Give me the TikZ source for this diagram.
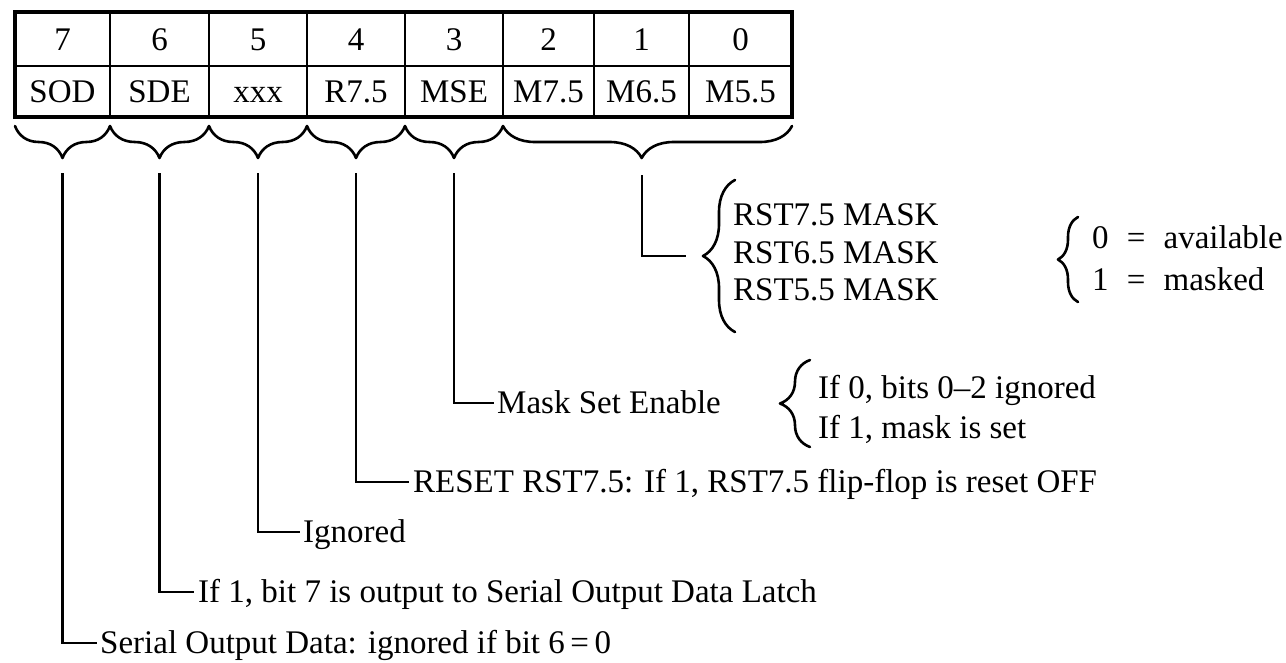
\documentclass[tikz,border=0pt]{standalone}
\usepackage{fontspec}
\setmainfont{Liberation Serif}
\usetikzlibrary{decorations.pathreplacing}
\begin{document}
\begin{tikzpicture}[x=1pt,y=-1pt,
  lbl/.style={anchor=west, inner sep=0pt, text height=23pt, text depth=3pt, font=\fontsize{33}{40}\selectfont},
  cell/.style={anchor=base, inner sep=0pt, font=\fontsize{33}{40}\selectfont},
  brc/.style={decorate, decoration={brace, amplitude=#1}, line width=2.6pt, line cap=round, line join=round},
  conn/.style={line width=2.6pt},
  grd/.style={line width=2.4pt},
]
\useasboundingbox[fill=white] (0,0) rectangle (1286,662);

% register table
\foreach \x in {110,209,307,405,503,594,689} \draw[grd] (\x,12) -- (\x,117);
\draw[grd] (15,66) -- (792,66);
\draw[line width=4pt] (15,12) rectangle (792,117);

\node[cell] (n7) at (62.5,50) {7};
\node[cell] (n6) at (159.5,50) {6};
\node[cell] (n5) at (258,50) {5};
\node[cell] (n4) at (356,50) {4};
\node[cell] (n3) at (454,50) {3};
\node[cell] (n2) at (548.5,50) {2};
\node[cell] (n1) at (641.5,50) {1};
\node[cell] (n0) at (740.5,50) {0};

\node[cell] (c7) at (62.5,102) {SOD};
\node[cell] (c6) at (159.5,102) {SDE};
\node[cell] (c5) at (258,102) {xxx};
\node[cell] (c4) at (356,102) {R7.5};
\node[cell] (c3) at (454,102) {MSE};
\node[cell] (c2) at (548.5,102) {M7.5};
\node[cell] (c1) at (641.5,102) {M6.5};
\node[cell] (c0) at (740.5,102) {M5.5};

% braces under the register
\draw[brc=32pt] (110,126) -- (15,126);
\draw[brc=32pt] (209,126) -- (110,126);
\draw[brc=32pt] (307,126) -- (209,126);
\draw[brc=32pt] (405,126) -- (307,126);
\draw[brc=32pt] (503,126) -- (405,126);
\draw[decorate, decoration={brace, amplitude=32pt, aspect=0.52}, line width=2.6pt, line cap=round, line join=round] (792,126) -- (503,126);

\coordinate (t7) at (62.5,173);
\coordinate (t6) at (159.5,173);
\coordinate (t5) at (258,173);
\coordinate (t4) at (356,173);
\coordinate (t3) at (454,173);
\coordinate (tm) at (642,175);

% labels
\node[lbl] (l7) at (100,643) {Serial Output Data: ignored if bit 6\,=\,0};
\node[lbl] (l6) at (198,592) {If 1, bit 7 is output to Serial Output Data Latch};
\node[lbl] (l5) at (303,532) {Ignored};
\node[lbl] (l4) at (413,482) {RESET RST7.5: If 1, RST7.5 flip-flop is reset OFF};
\node[lbl] (l3) at (497,403) {Mask Set Enable};

\draw[conn] (t7) |- ([xshift=-3pt]l7.west);
\draw[conn] (t6) |- ([xshift=-4pt]l6.west);
\draw[conn] (t5) |- ([xshift=-3pt]l5.west);
\draw[conn] (t4) |- ([xshift=-4pt]l4.west);
\draw[conn] (t3) |- ([xshift=-3pt]l3.west);

% mask set enable options
\draw[brc=30pt] (810,447) -- (810,360);
\node[lbl] (e0) at (818,388) {If 0, bits 0--2 ignored};
\node[lbl] (e1) at (818,428) {If 1, mask is set};

% interrupt masks
\draw[brc=32pt] (735,332) -- (735,180);
\coordinate (mbr) at (701,256);
\node[lbl] (m7) at (733,215) {RST7.5 MASK};
\node[lbl] (m6) at (733,253) {RST6.5 MASK};
\node[lbl] (m5) at (733,290) {RST5.5 MASK};
\draw[conn] (tm) |- ([xshift=-15pt]mbr);

% mask values
\draw[brc=20pt] (1078,302) -- (1078,217);
\node[lbl] (v0) at (1092,238) {0\hspace{.55em}=\hspace{.55em}available};
\node[lbl] (v1) at (1092,280) {1\hspace{.55em}=\hspace{.55em}masked};
\end{tikzpicture}
\end{document}
